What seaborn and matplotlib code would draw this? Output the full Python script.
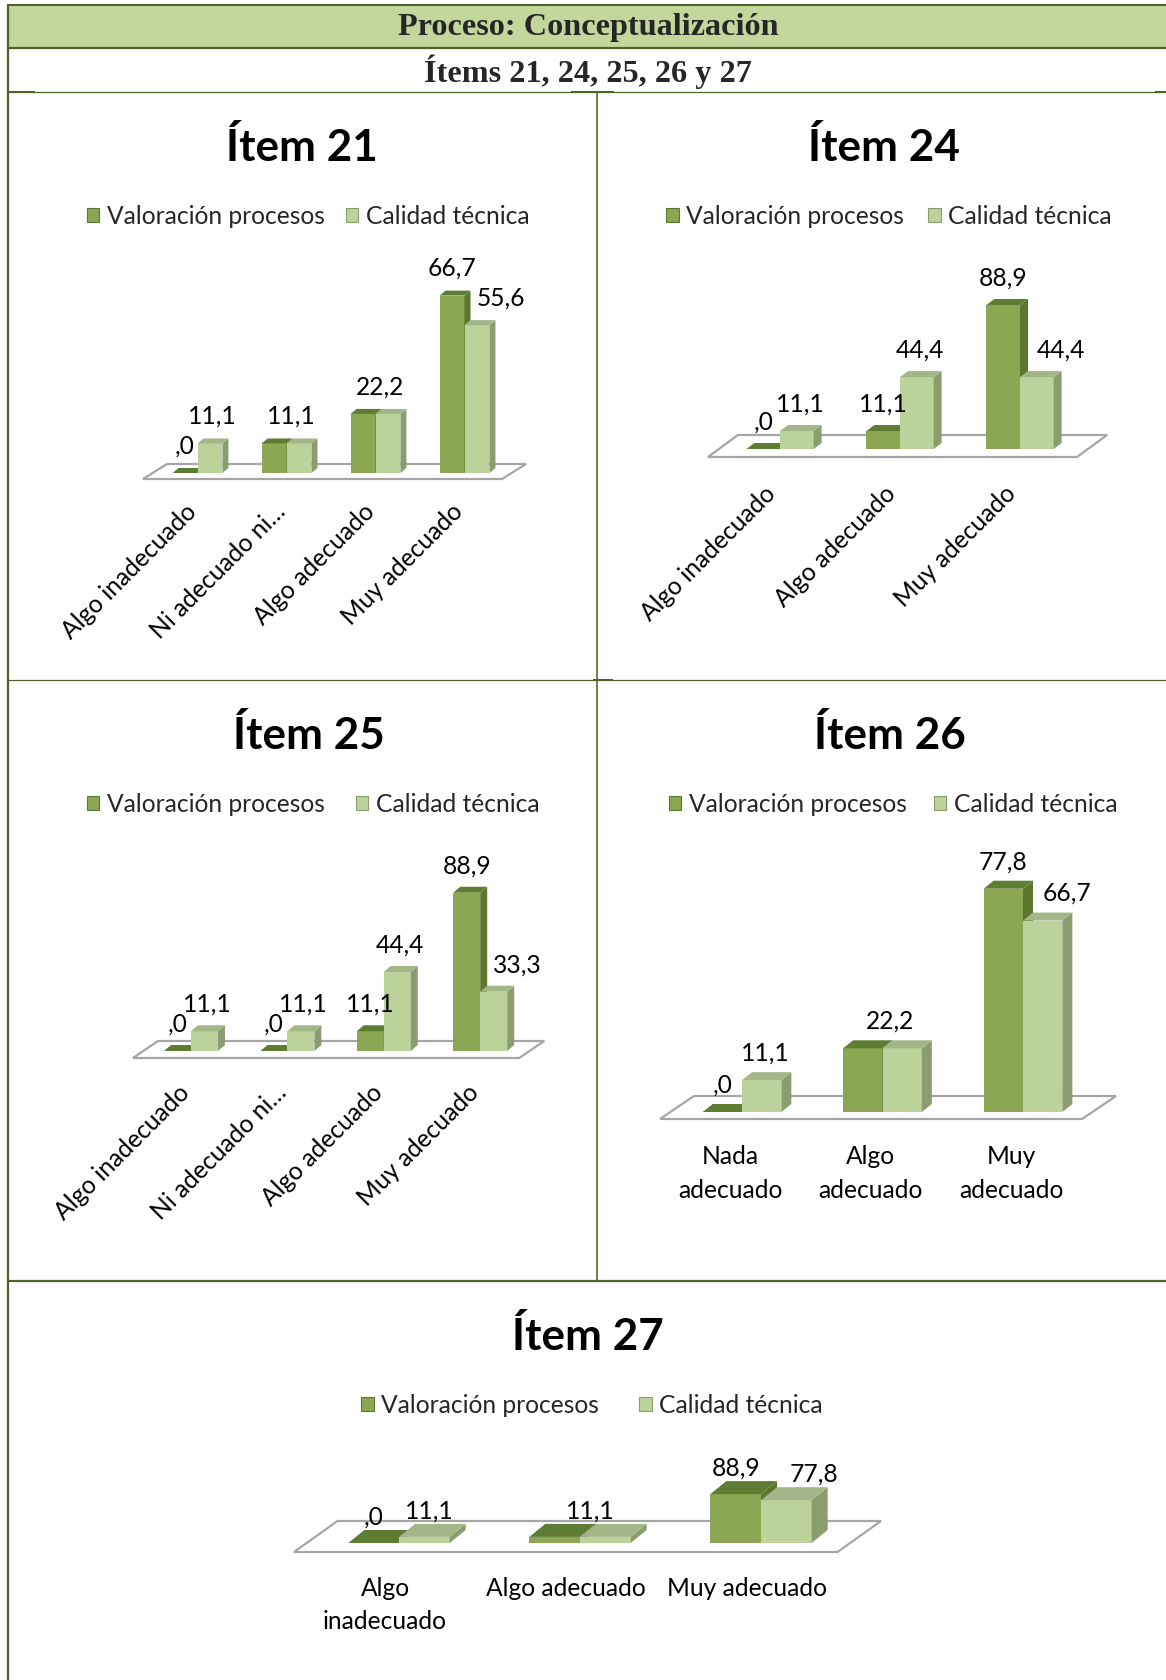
import matplotlib
matplotlib.use("Agg")
import matplotlib.pyplot as plt
from matplotlib.patches import Polygon, Rectangle, Patch
from matplotlib.transforms import ScaledTranslation
import pandas as pd
import seaborn as sns

# ---------------------------------------------------------------- data
SERIES = ["Valoración procesos", "Calidad técnica"]

cats_21 = ["Algo inadecuado", "Ni adecuado ni…", "Algo adecuado", "Muy adecuado"]
valoracion_21 = [0.0, 11.1, 22.2, 66.7]
calidad_21 = [11.1, 11.1, 22.2, 55.6]

cats_24 = ["Algo inadecuado", "Algo adecuado", "Muy adecuado"]
valoracion_24 = [0.0, 11.1, 88.9]
calidad_24 = [11.1, 44.4, 44.4]

cats_25 = ["Algo inadecuado", "Ni adecuado ni…", "Algo adecuado", "Muy adecuado"]
valoracion_25 = [0.0, 0.0, 11.1, 88.9]
calidad_25 = [11.1, 11.1, 44.4, 33.3]

cats_26 = ["Nada\nadecuado", "Algo\nadecuado", "Muy\nadecuado"]
valoracion_26 = [0.0, 22.2, 77.8]
calidad_26 = [11.1, 22.2, 66.7]

cats_27 = ["Algo\ninadecuado", "Algo adecuado", "Muy adecuado"]
valoracion_27 = [0.0, 11.1, 88.9]
calidad_27 = [11.1, 11.1, 77.8]

HEADER = "Proceso: Conceptualización"
SUBHEADER = "Ítems 21, 24, 25, 26 y 27"

# ---------------------------------------------------------------- style
W, H, DPI = 1166, 1681, 100
BORDER = "#4F6228"
HEADER_FILL = "#C3D69B"
FRONT = ["#8BA753", "#BCD29B"]
SIDE = ["#5D772E", "#8B9C6E"]
TOP = ["#5F7D32", "#A3B687"]
FLOOR_EDGE = "#A6A6A6"
FS = 17.7

sns.set_theme(style="white")
plt.rcParams["font.family"] = ["Lato", "DejaVu Sans"]

fig = plt.figure(figsize=(W / DPI, H / DPI), dpi=DPI)
fig.patch.set_facecolor("white")

# page-sized canvas in pixel units (y downwards) for the table frame
bg = fig.add_axes([0, 0, 1, 1])
bg.set_xlim(0, W)
bg.set_ylim(H, 0)
bg.axis("off")


def px(v):
    return v * 72.0 / DPI


def hline(y, x0, x1, lw):
    bg.plot([x0, x1], [y, y], color=BORDER, lw=px(lw), solid_capstyle="butt")


def vline(x, y0, y1, lw):
    bg.plot([x, x], [y0, y1], color=BORDER, lw=px(lw), solid_capstyle="butt")


# table frame
bg.add_patch(Rectangle((8, 7), W - 8, 41, fc=HEADER_FILL, ec="none"))
hline(6, 7, W, 2)
hline(48.5, 7, W, 2.2)
hline(92.5, 7, W, 1.2)
hline(92.8, 8, 35, 2)
hline(92.8, 571, 614, 2)
hline(92.8, 1155, W, 2)
vline(7.5, 5, H, 2.2)
vline(597, 92.5, 1282, 1.6)
hline(680.5, 7, W, 1.2)
hline(681, 593, 613, 2)
hline(1282, 7, W, 2.2)

bg.text(588, 35, HEADER, family=["Liberation Serif", "DejaVu Serif"],
        weight="bold", fontsize=23.2, ha="center", va="baseline")
bg.text(588, 82, SUBHEADER, family=["Liberation Serif", "DejaVu Serif"],
        weight="bold", fontsize=23.2, ha="center", va="baseline")


def fmt(v):
    s = f"{v:.1f}".replace(".", ",")
    return s[1:] if s.startswith("0") else s


def offset(ax, dx, dy):
    # shift in pixels (dy positive = up)
    return ax.transData + ScaledTranslation(dx / DPI, dy / DPI, fig.dpi_scale_trans)


def chart(title, cats, vals, c0, sp, base, ppu, depth, floor, title_xy, leg_xy,
          leg_cs, rotated, tick_off, linesp=1.2, lift=28):
    n = len(cats)
    left = c0 - sp / 2
    height = 100 * ppu
    ax = fig.add_axes([left / W, (H - base) / H, n * sp / W, height / H])
    ax.patch.set_alpha(0)

    df = pd.DataFrame({
        "categoria": list(cats) * 2,
        "serie": [SERIES[0]] * n + [SERIES[1]] * n,
        "valor": list(vals[0]) + list(vals[1]),
    })
    sns.barplot(data=df, x="categoria", y="valor", hue="serie", order=list(cats),
                hue_order=SERIES, palette=FRONT, saturation=1, width=0.56,
                linewidth=0, legend=False, ax=ax)
    ax.set_xlim(-0.5, n - 0.5)
    ax.set_ylim(0, 100)
    ax.axis("off")

    # floor plate
    fl, fr, sk, fb, ba = floor
    xl, xr, skd = fl / sp, (n - 1) + fr / sp, sk / sp
    yf, yb = -fb / ppu, ba / ppu
    ax.add_patch(Polygon([(xl, yf), (xr, yf), (xr + skd, yb), (xl + skd, yb)],
                         closed=True, fc="white", ec=FLOOR_EDGE, lw=1.6,
                         zorder=1, clip_on=False, joinstyle="miter"))

    # extruded bars: side and top faces on top of the seaborn front faces
    ddx, ddy = depth[0] / sp, depth[1] / ppu
    bars = sorted(ax.patches[:2 * n], key=lambda p: p.get_x())
    for k, p in enumerate(bars):
        s = k % 2
        x, w, h = p.get_x(), p.get_width(), p.get_height()
        p.set_zorder(3 + 3 * k)
        p.set_clip_on(False)
        ax.add_patch(Polygon([(x + w, 0), (x + w + ddx, ddy), (x + w + ddx, h + ddy), (x + w, h)],
                             closed=True, fc=SIDE[s], ec="none", zorder=4 + 3 * k, clip_on=False))
        ax.add_patch(Polygon([(x, h), (x + w, h), (x + w + ddx, h + ddy), (x + ddx, h + ddy)],
                             closed=True, fc=TOP[s], ec="none", zorder=5 + 3 * k, clip_on=False))

    # value labels
    bw_px = 0.28 * sp
    for i in range(n):
        a, b = vals[0][i], vals[1][i]
        if a == b:
            ax.text(i, a, fmt(a), transform=offset(ax, 0.2 * bw_px, lift), ha="center",
                    va="center", fontsize=FS, color="black", zorder=50)
        else:
            ax.text(i - 0.14, a, fmt(a), transform=offset(ax, 0, lift), ha="center",
                    va="center", fontsize=FS, color="black", zorder=50)
            lo = max(0.55 * bw_px, 24) if a > b else 0.1 * bw_px
            ax.text(i + 0.14, b, fmt(b), transform=offset(ax, lo, lift), ha="center",
                    va="center", fontsize=FS, color="black", zorder=50)

    # category labels
    for i, c in enumerate(cats):
        if rotated:
            ax.text(i, 0, c, transform=offset(ax, tick_off[0], -tick_off[1]), rotation=45,
                    rotation_mode="anchor", ha="right", va="center", fontsize=FS,
                    color="black")
        else:
            ax.text(i, 0, c, transform=offset(ax, tick_off[0], -tick_off[1]), ha="center",
                    va="top", fontsize=FS, color="black", multialignment="center",
                    linespacing=linesp)

    bg.text(title_xy[0], title_xy[1], title, ha="center", va="baseline",
            fontsize=31.8, fontweight="bold", color="black")

    handles = [Patch(fc=FRONT[0], ec=SIDE[0], lw=0.8), Patch(fc=FRONT[1], ec=SIDE[1], lw=0.8)]
    ax.legend(handles, SERIES, ncol=2, loc="center", bbox_to_anchor=leg_xy,
              bbox_transform=bg.transData, frameon=False, fontsize=FS,
              handlelength=0.52, handleheight=0.52, handletextpad=0.3,
              columnspacing=leg_cs, borderpad=0, borderaxespad=0)
    return ax


chart("Ítem 21", cats_21, (valoracion_21, calidad_21), c0=197.5, sp=89, base=474, ppu=2.66,
      depth=(6, 5), floor=(-54.5, 37.5, 24, 6, 9), title_xy=(302, 161), leg_xy=(308, 217),
      leg_cs=0.85, rotated=True, tick_off=(-5, 34))

chart("Ítem 24", cats_24, (valoracion_24, calidad_24), c0=780, sp=120, base=450, ppu=1.62,
      depth=(8, 6), floor=(-72, 57, 30, 8, 14), title_xy=(884, 161), leg_xy=(889, 217),
      leg_cs=0.96, rotated=True, tick_off=(-8, 40))

chart("Ítem 25", cats_25, (valoracion_25, calidad_25), c0=191, sp=96.4, base=1052, ppu=1.78,
      depth=(7, 6), floor=(-58, 39, 25, 7, 10), title_xy=(309, 749), leg_xy=(313, 805),
      leg_cs=1.26, rotated=True, tick_off=(-5, 37))

chart("Ítem 26", cats_26, (valoracion_26, calidad_26), c0=742, sp=140.5, base=1113, ppu=2.87,
      depth=(10, 8), floor=(-82, 59, 34, 7, 16), title_xy=(890, 749), leg_xy=(893, 805),
      leg_cs=1.1, rotated=False, tick_off=(-12, 32), linesp=1.56)

chart("Ítem 27", cats_27, (valoracion_27, calidad_27), c0=399, sp=181, base=1544, ppu=0.55,
      depth=(16, 13), floor=(-105, 76.5, 43.5, 9, 22), title_xy=(588, 1350),
      leg_xy=(592, 1406), leg_cs=1.63, rotated=False, tick_off=(-14, 33), linesp=1.52,
      lift=27)

fig.savefig("out.png", dpi=DPI, facecolor="white")
